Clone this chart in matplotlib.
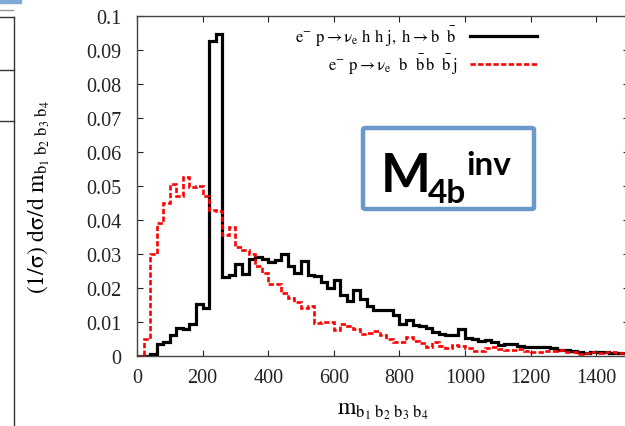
import numpy as np
import matplotlib
matplotlib.use('Agg')
import matplotlib.pyplot as plt
from matplotlib.lines import Line2D
from matplotlib.patches import FancyBboxPatch, Rectangle

plt.rcParams['font.family'] = ['Liberation Serif', 'DejaVu Serif']
plt.rcParams['mathtext.fontset'] = 'stix'

# bin edges of the histograms (GeV)
bin_width = 20
x_max = 1500

# normalised distributions, one value per 20 GeV bin
signal_hhj = [
    0, 0, 0.0006, 0.0035, 0.004, 0.006, 0.0082, 0.008, 0.0094, 0.0153,
    0.014, 0.0925, 0.0945, 0.0232, 0.0238, 0.027, 0.024, 0.0285, 0.029, 0.0283,
    0.0277, 0.0282, 0.030, 0.0265, 0.0243, 0.028, 0.0237, 0.0235, 0.0218, 0.0198,
    0.0222, 0.018, 0.016, 0.0194, 0.0168, 0.0147, 0.0133, 0.0134, 0.0135, 0.0119,
    0.0092, 0.0104, 0.009, 0.0087, 0.0082, 0.007, 0.0065, 0.006, 0.006, 0.0078,
    0.0053, 0.0048, 0.0044, 0.0046, 0.004, 0.0031, 0.0035, 0.0034, 0.003, 0.0027,
    0.0025, 0.0026, 0.0027, 0.0022, 0.0016, 0.0017, 0.0013, 0.0012, 0.0009, 0.0012,
    0.001, 0.001, 0.0008, 0.0007, 0.0008,
]
background_4bj = [
    0, 0.005, 0.030, 0.039, 0.045, 0.0505, 0.047, 0.0525, 0.0495, 0.050,
    0.047, 0.043, 0.0425, 0.0355, 0.038, 0.032, 0.031, 0.030, 0.0265, 0.0243,
    0.021, 0.021, 0.0185, 0.017, 0.0157, 0.014, 0.0145, 0.0096, 0.0098, 0.0099,
    0.0077, 0.0092, 0.0088, 0.008, 0.0065, 0.0066, 0.0074, 0.006, 0.0049, 0.004,
    0.0041, 0.0056, 0.0043, 0.0036, 0.0027, 0.004, 0.0029, 0.0023, 0.0032, 0.0029,
    0.0023, 0.0015, 0.0015, 0.0023, 0.0026, 0.002, 0.0018, 0.0017, 0.002, 0.0015,
    0.001, 0.0012, 0.0015, 0.0013, 0.0017, 0.0012, 0.001, 0.0005, 0.0008, 0.0012,
    0.0007, 0.001, 0.001, 0.0008, 0.0009,
]
edges = np.arange(0, x_max + bin_width, bin_width)

x_ticks = [0, 200, 400, 600, 800, 1000, 1200, 1400]
y_ticks = [0, 0.01, 0.02, 0.03, 0.04, 0.05, 0.06, 0.07, 0.08, 0.09, 0.1]

label_sig = r'$\mathrm{e^{-}\ p \rightarrow \nu_e\ h\ h\ j,\ h \rightarrow b\ \ \bar{b}}$'
label_bkg = r'$\mathrm{e^{-}\ p \rightarrow \nu_e\ \ b\ \ \bar{b}\,b\ \ \bar{b}\,j}$'

W, H = 625, 427
fig = plt.figure(figsize=(W / 100, H / 100), dpi=100)
ax = fig.add_axes([137 / W, 1 - 356.7 / H, (629 - 137) / W, 340 / H])

ax.stairs(signal_hhj, edges, color='black', lw=2.3, label=label_sig)
ax.stairs(background_4bj, edges, color='red', lw=1.9,
          linestyle=(0, (2, 0.9)), label=label_bkg)

ax.set_xlim(0, x_max)
ax.set_ylim(0, 0.1)
ax.set_xticks(x_ticks)
ax.set_yticks(y_ticks)
ax.set_yticklabels(['%g' % v for v in y_ticks])
ax.tick_params(direction='in', top=True, right=True, length=4,
               labelsize=14.5, colors='#222222')
ax.tick_params(axis='y', pad=11)
ax.tick_params(axis='x', pad=9)
for s in ax.spines.values():
    s.set_color('#444444')
    s.set_linewidth(1)

ax.set_xlabel(r'$\mathrm{m_{b_1\ b_2\ b_3\ b_4}}$', fontsize=17)
ax.set_ylabel(r'$\mathrm{(1/\sigma)\ d\sigma/d\ m_{b_1\ b_2\ b_3\ b_4}}$', fontsize=17)
ax.xaxis.set_label_coords((383 - 137) / 492, -(400 - 356.7) / 340)
ax.yaxis.set_label_coords(-(137 - 52) / 492, (356.7 - 197) / 340)

ax.legend(loc='upper right', bbox_to_anchor=((537 - 137) / 492, 1 - 8 / 340),
          frameon=False, markerfirst=False, fontsize=12, handlelength=4.0,
          handletextpad=0.8, labelspacing=0.25, borderaxespad=0, borderpad=0)

# M_4b^inv label box
box = FancyBboxPatch((363 / W, 1 - 210 / H), 171 / W, 81 / H,
                     boxstyle='round,pad=0,rounding_size=0.004',
                     transform=fig.transFigure, facecolor='white',
                     edgecolor='#6a98ca', lw=3.2, zorder=5)
fig.patches.append(box)
fig.text(381 / W, 1 - 192 / H, 'M', fontsize=38, fontweight='bold',
         family='Lato', zorder=6)
fig.text(428 / W, 1 - 203 / H, '4b', fontsize=24, fontweight='bold',
         family='Lato', zorder=6)
fig.text(466 / W, 1 - 175 / H, 'inv', fontsize=24, fontweight='bold',
         family='Lato', zorder=6)

# slide frame remnants on the left edge
fig.patches.append(Rectangle((0, 1 - 3.5 / H), 21 / W, 3.5 / H,
                             transform=fig.transFigure, color='#7fa9d8'))
for y in [18, 71, 122]:
    fig.lines.append(Line2D([0, 13.5 / W], [1 - y / H, 1 - y / H],
                            transform=fig.transFigure, color='#333333', lw=1))
fig.lines.append(Line2D([0, 13 / W], [1 - 11 / H, 1 - 11 / H],
                        transform=fig.transFigure, color='#999999', lw=1))
fig.lines.append(Line2D([13.5 / W, 13.5 / W], [0, 1 - 18 / H],
                        transform=fig.transFigure, color='#333333', lw=1))

fig.savefig('out.png', dpi=100)
